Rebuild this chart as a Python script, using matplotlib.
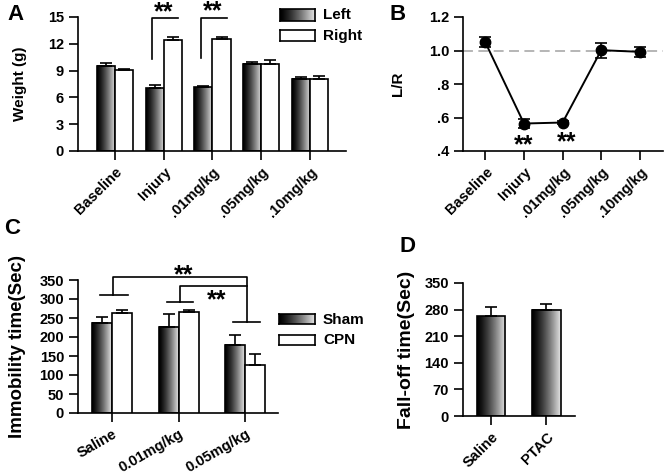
import numpy as np
import matplotlib.pyplot as plt

plt.rcParams['font.family'] = ['Liberation Sans', 'DejaVu Sans']
plt.rcParams['font.weight'] = 'bold'
plt.rcParams['axes.labelweight'] = 'bold'

# ---- data ----
# A: paw weight
groups_a = ['Baseline', 'Injury', '.01mg/kg', '.05mg/kg', '.10mg/kg']
left_w = [9.55, 7.0, 7.13, 9.75, 8.1]
left_err = [0.25, 0.37, 0.15, 0.25, 0.2]
right_w = [9.1, 12.45, 12.55, 9.75, 8.1]
right_err = [0.05, 0.3, 0.16, 0.45, 0.26]

# B: L/R ratio
ratio_b = [1.048, 0.564, 0.570, 1.002, 0.992]
ratio_err = [0.03, 0.026, 0.01, 0.044, 0.03]

# C: immobility time
groups_c = ['Saline', '0.01mg/kg', '0.05mg/kg']
sham = [238, 227, 179]
sham_err = [15, 33, 26]
cpn = [262, 265, 126]
cpn_err = [8, 6, 29]

# D: fall-off time
groups_d = ['Saline', 'PTAC']
falloff = [263, 280]
falloff_err = [25, 14]

W, H = 666, 474
fig = plt.figure(figsize=(W / 100, H / 100), dpi=100)

def fr(x0, y0, x1, y1):
    # pixel box -> figure fraction rect
    return [x0 / W, 1 - y1 / H, (x1 - x0) / W, (y1 - y0) / H]

t = np.linspace(0, 1, 256)
grad = (0.9 * t ** 1.3).reshape(1, -1)
LW = 1.2
STAR = 18

def style(ax):
    for s in ['top', 'right']:
        ax.spines[s].set_visible(False)
    for s in ['left', 'bottom']:
        ax.spines[s].set_linewidth(LW)
    ax.tick_params(direction='out', length=6.5, width=LW, labelsize=10.5)

def bars(ax, xs, vals, errs, w, gradient=True):
    if gradient:
        for x, v in zip(xs, vals):
            ax.imshow(grad, extent=(x - w / 2, x + w / 2, 0, v), aspect='auto',
                      cmap='gray', vmin=0, vmax=1, zorder=2, interpolation='bilinear')
    ax.bar(xs, vals, w, facecolor='none' if gradient else 'white',
           edgecolor='black', linewidth=LW, zorder=3)
    ax.errorbar(xs, vals, yerr=[np.zeros(len(errs)), errs], fmt='none',
                ecolor='black', elinewidth=LW, capsize=4, capthick=LW, zorder=4)

def swatch(box, gradient=True):
    sa = fig.add_axes(fr(*box))
    if gradient:
        sa.imshow(grad, aspect='auto', cmap='gray', vmin=0, vmax=1, interpolation='bilinear')
    sa.set_xticks([])
    sa.set_yticks([])
    for s in sa.spines.values():
        s.set_linewidth(LW)

# ---- A ----
axA = fig.add_axes(fr(78, 17, 346, 151))
style(axA)
xa = np.arange(len(groups_a))
bw = 0.37
bars(axA, xa - bw / 2, left_w, left_err, bw)
bars(axA, xa + bw / 2, right_w, right_err, bw, gradient=False)
axA.set_xlim(-0.76, 4.74)
axA.set_ylim(0, 15)
axA.set_yticks([0, 3, 6, 9, 12, 15])
axA.set_xticks(xa)
axA.set_xticklabels(groups_a, rotation=45, ha='right', rotation_mode='anchor')
axA.set_ylabel('Weight (g)', fontsize=11)
axA.yaxis.set_label_coords(-0.19, 0.5)
for gx, y0, ys in [(1, 10.3, 14.7), (2, 10.45, 14.9)]:
    axA.plot([gx - 0.24, gx - 0.24, gx + 0.3], [y0, 14.9, 14.9], color='black',
             lw=LW, clip_on=False)
    axA.text(gx, ys, '**', ha='center', va='baseline', fontsize=STAR, clip_on=False)

swatch((280, 9, 315, 21))
swatch((280, 30, 315, 41), gradient=False)
fig.text(323 / W, 1 - 15 / H, 'Left', fontsize=11, va='center')
fig.text(323 / W, 1 - 36 / H, 'Right', fontsize=11, va='center')

# ---- B ----
axB = fig.add_axes(fr(463, 17, 663, 151))
style(axB)
xb = np.arange(len(groups_a))
axB.axhline(1.0, color='#b0b0b0', lw=1.3, ls=(0, (5.5, 3)), zorder=1)
axB.errorbar(xb, ratio_b, yerr=ratio_err, fmt='-o', color='black', ms=7.5,
             lw=1.4, elinewidth=LW, capsize=4.5, capthick=LW, zorder=3)
axB.set_xlim(-0.58, 4.6)
axB.set_ylim(0.4, 1.2)
axB.set_yticks([0.4, 0.6, 0.8, 1.0, 1.2])
axB.set_yticklabels(['.4', '.6', '.8', '1.0', '1.2'])
axB.set_xticks(xb)
axB.set_xticklabels(groups_a, rotation=45, ha='right', rotation_mode='anchor')
axB.set_ylabel('L/R', fontsize=11)
axB.yaxis.set_label_coords(-0.29, 0.5)
axB.text(1, 0.393, '**', ha='center', va='baseline', fontsize=STAR, clip_on=False)
axB.text(2.1, 0.411, '**', ha='center', va='baseline', fontsize=STAR, clip_on=False)

# ---- C ----
axC = fig.add_axes(fr(78, 280, 278, 413))
style(axC)
xc = np.arange(len(groups_c))
cw = 0.3
bars(axC, xc - cw / 2, sham, sham_err, cw)
bars(axC, xc + cw / 2, cpn, cpn_err, cw, gradient=False)
axC.set_xlim(-0.51, 2.49)
axC.set_ylim(0, 350)
axC.set_yticks(np.arange(0, 351, 50))
axC.set_xticks(xc)
axC.set_xticklabels(groups_c, rotation=30, ha='right', rotation_mode='anchor')
axC.set_ylabel('Immobility time(Sec)', fontsize=13.5)
axC.yaxis.set_label_coords(-0.26, 0.5)
kw = dict(color='black', lw=LW, clip_on=False)
axC.plot([0.02, 0.02, 2.02, 2.02], [310, 359, 359, 239], **kw)
axC.plot([-0.18, 0.24], [310, 310], **kw)
axC.plot([1.82, 2.22], [239, 239], **kw)
axC.plot([1.02, 1.02, 2.02], [291, 335, 335], **kw)
axC.plot([0.82, 1.22], [291, 291], **kw)
axC.text(1.07, 343, '**', ha='center', va='baseline', fontsize=STAR, clip_on=False)
axC.text(1.57, 277, '**', ha='center', va='baseline', fontsize=STAR, clip_on=False)

swatch((279, 314, 315, 324))
swatch((279, 335, 315, 345), gradient=False)
fig.text(323 / W, 1 - 320 / H, 'Sham', fontsize=11, va='center')
fig.text(323 / W, 1 - 340 / H, 'CPN', fontsize=11, va='center')

# ---- D ----
axD = fig.add_axes(fr(463, 283, 575, 416))
style(axD)
xd = np.arange(len(groups_d))
bars(axD, xd, falloff, falloff_err, 0.52)
axD.set_xlim(-0.51, 1.52)
axD.set_ylim(0, 350)
axD.set_yticks(np.arange(0, 351, 70))
axD.set_xticks(xd)
axD.set_xticklabels(groups_d, rotation=45, ha='right', rotation_mode='anchor')
axD.set_ylabel('Fall-off time(Sec)', fontsize=14)
axD.yaxis.set_label_coords(-0.43, 0.5)

# panel letters
for lx, ly, s in [(16, 15, 'A'), (398, 15, 'B'), (12, 228, 'C'), (407, 247, 'D')]:
    fig.text(lx / W, 1 - ly / H, s, fontsize=16, ha='center', va='center')

fig.savefig('out.png', dpi=100)
